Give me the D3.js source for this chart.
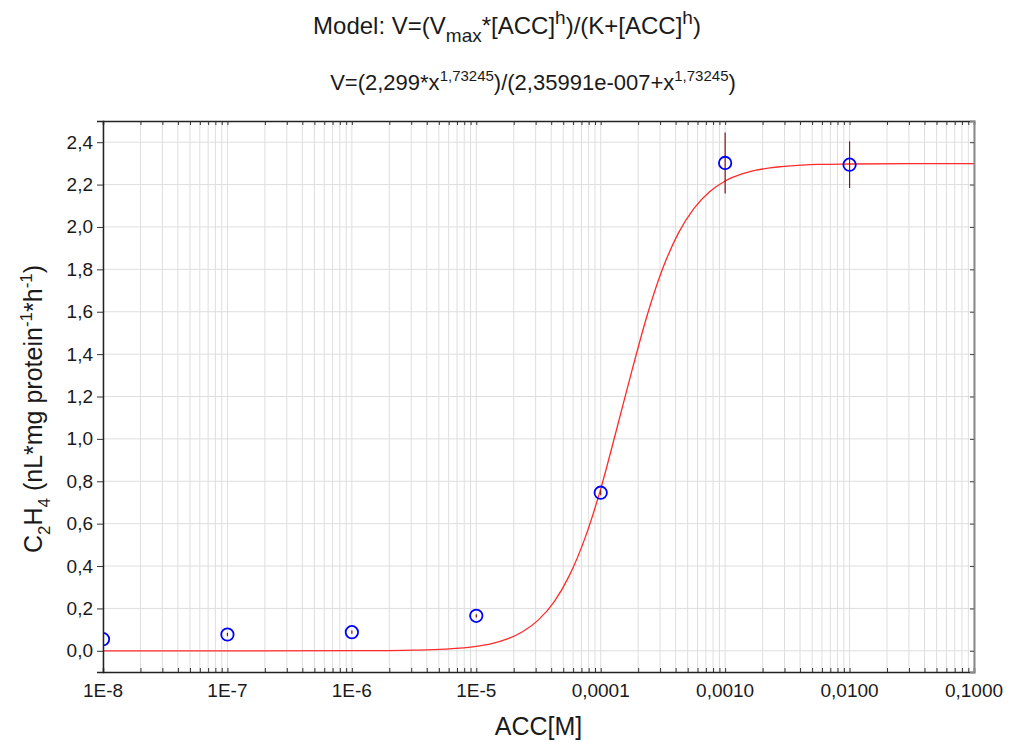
<!DOCTYPE html>
<html lang="en">
<head>
<meta charset="UTF-8">
<title>ACC dose response</title>
<style>
  body { margin: 0; background: #fff; }
  text { font-family: "Liberation Sans", Arial, sans-serif; fill: #1a1a1a; }
</style>
</head>
<body>
<svg id="chart" width="1010" height="742"></svg>
<script src="https://cdn.jsdelivr.net/npm/d3@7/dist/d3.min.js"></script>
<script>
// measured points (mean and error)
var accConc = [1e-8, 1e-7, 1e-6, 1e-5, 1e-4, 1e-3, 1e-2];
var ethylene = [0.055, 0.077, 0.088, 0.165, 0.746, 2.302, 2.294];
var ethyleneErr = [0.004, 0.008, 0.008, 0.008, 0.012, 0.144, 0.11];

// fitted curve
var fitConc = [1e-8, 1e-7, 1e-6, 1.78e-6, 3.16e-6, 5.62e-6, 1e-5, 1.33e-5, 1.78e-5, 2.37e-5,
    3.16e-5, 4.22e-5, 5.62e-5, 7.5e-5, 1e-4, 1.33e-4, 1.78e-4, 2.37e-4, 3.16e-4, 4.22e-4,
    5.62e-4, 7.5e-4, 1e-3, 1.33e-3, 1.78e-3, 3.16e-3, 5.62e-3, 1e-2, 3.16e-2, 0.1];
var fitV = [0, 0, 0.0004, 0.0011, 0.0029, 0.0078, 0.021, 0.034, 0.056, 0.091,
    0.146, 0.231, 0.357, 0.534, 0.764, 1.036, 1.321, 1.586, 1.806, 1.972,
    2.088, 2.166, 2.217, 2.248, 2.268, 2.287, 2.295, 2.297, 2.299, 2.299];

var xTickValues = [1e-8, 1e-7, 1e-6, 1e-5, 1e-4, 1e-3, 1e-2, 1e-1];
var xTickLabels = ["1E-8", "1E-7", "1E-6", "1E-5", "0,0001", "0,0010", "0,0100", "0,1000"];
var yTickValues = [0, 0.2, 0.4, 0.6, 0.8, 1.0, 1.2, 1.4, 1.6, 1.8, 2.0, 2.2, 2.4];
var yTickLabels = ["0,0", "0,2", "0,4", "0,6", "0,8", "1,0", "1,2", "1,4", "1,6", "1,8", "2,0", "2,2", "2,4"];

// title pieces: [text, kind] where kind is "n" normal, "sub", "sup"
var title1 = [["Model: V=(V", "n"], ["max", "sub"], ["*[ACC]", "n"], ["h", "sup"], [")/(K+[ACC]", "n"], ["h", "sup"], [")", "n"]];
var title2 = [["V=(2,299*x", "n"], ["1,73245", "sup"], [")/(2,35991e-007+x", "n"], ["1,73245", "sup"], [")", "n"]];
var yTitle = [["C", "n"], ["2", "sub"], ["H", "n"], ["4", "sub"], [" (nL*mg protein", "n"], ["-1", "sup"], ["*h", "n"], ["-1", "sup"], [")", "n"]];
var xTitle = "ACC[M]";

var plotLeft = 103, plotRight = 974, plotTop = 121, plotBottom = 672;

var svg = d3.select("#chart");

var x = d3.scaleLog().domain([1e-8, 0.1]).range([plotLeft, plotRight]);
var y = d3.scaleLinear().domain([-0.1, 2.5]).range([plotBottom, plotTop]);

var minorTicks = x.ticks(100);

// grid
svg.append("g")
    .selectAll("line")
    .data(minorTicks)
    .enter().append("line")
    .attr("x1", d => x(d)).attr("x2", d => x(d))
    .attr("y1", plotTop).attr("y2", plotBottom)
    .attr("stroke", "#dedede").attr("stroke-width", 1);

svg.append("g")
    .selectAll("line")
    .data(yTickValues)
    .enter().append("line")
    .attr("x1", plotLeft).attr("x2", plotRight)
    .attr("y1", d => y(d)).attr("y2", d => y(d))
    .attr("stroke", "#dedede").attr("stroke-width", 1);

// clip for plot content
svg.append("clipPath").attr("id", "plotClip")
    .append("rect").attr("x", plotLeft).attr("y", plotTop)
    .attr("width", plotRight - plotLeft).attr("height", plotBottom - plotTop);

var plot = svg.append("g").attr("clip-path", "url(#plotClip)");

var fitData = d3.zip(fitConc, fitV);
var line = d3.line()
    .x(d => x(d[0]))
    .y(d => y(d[1]))
    .curve(d3.curveMonotoneX);

plot.append("path")
    .datum(fitData)
    .attr("d", line)
    .attr("fill", "none")
    .attr("stroke", "#ff2a2a")
    .attr("stroke-width", 1.3);

var points = accConc.map((c, i) => ({ c: c, v: ethylene[i], e: ethyleneErr[i] }));

plot.append("g")
    .selectAll("line")
    .data(points)
    .enter().append("line")
    .attr("x1", d => x(d.c)).attr("x2", d => x(d.c))
    .attr("y1", d => y(d.v + d.e)).attr("y2", d => y(d.v - d.e))
    .attr("stroke", "#8b1010").attr("stroke-width", 1.2);

plot.append("g")
    .selectAll("circle")
    .data(points)
    .enter().append("circle")
    .attr("cx", d => x(d.c))
    .attr("cy", d => y(d.v))
    .attr("r", 6.2)
    .attr("fill", "none")
    .attr("stroke", "#0000ff")
    .attr("stroke-width", 1.8);

// axes
var bottomAxis = svg.append("g")
    .attr("transform", "translate(0," + plotBottom + ")")
    .call(d3.axisBottom(x).tickValues(minorTicks).tickSize(-4).tickFormat(""));
var topAxis = svg.append("g")
    .attr("transform", "translate(0," + plotTop + ")")
    .call(d3.axisTop(x).tickValues(minorTicks).tickSize(-4).tickFormat(""));
var leftAxis = svg.append("g")
    .attr("transform", "translate(" + plotLeft + ",0)")
    .call(d3.axisLeft(y).tickValues(yTickValues).tickSize(6).tickFormat(""));
var rightAxis = svg.append("g")
    .attr("transform", "translate(" + plotRight + ",0)")
    .call(d3.axisRight(y).tickValues(yTickValues).tickSize(-4).tickFormat(""));

[bottomAxis, topAxis, leftAxis].forEach(a => {
    a.select(".domain").attr("stroke", "#222").attr("stroke-width", 1.5);
    a.selectAll(".tick line").attr("stroke", "#333");
});
rightAxis.select(".domain").attr("stroke", "#888").attr("stroke-width", 2);
rightAxis.selectAll(".tick line").attr("stroke", "#444");

// tick labels
svg.append("g")
    .selectAll("text")
    .data(xTickValues)
    .enter().append("text")
    .attr("x", d => x(d))
    .attr("y", plotBottom + 25)
    .attr("text-anchor", "middle")
    .style("font-size", "19px")
    .text((d, i) => xTickLabels[i]);

svg.append("g")
    .selectAll("text")
    .data(yTickValues)
    .enter().append("text")
    .attr("x", plotLeft - 10)
    .attr("y", d => y(d) + 6.5)
    .attr("text-anchor", "end")
    .style("font-size", "19px")
    .text((d, i) => yTickLabels[i]);

// rich text with sub/superscripts
function richText(sel, parts, size, ratio) {
    var small = Math.round(size * ratio);
    var shift = 0;
    parts.forEach(p => {
        var target = p[1] == "sub" ? size * 0.32 : p[1] == "sup" ? -size * 0.42 : 0;
        sel.append("tspan")
            .attr("dy", target - shift)
            .style("font-size", (p[1] == "n" ? size : small) + "px")
            .text(p[0]);
        shift = target;
    });
}

var t1 = svg.append("text").attr("x", 507).attr("y", 34).attr("text-anchor", "middle").style("font-size", "24px");
richText(t1, title1, 24, 0.78);
var t2 = svg.append("text").attr("x", 533).attr("y", 90).attr("text-anchor", "middle").style("font-size", "22px");
richText(t2, title2, 22, 0.68);

svg.append("text")
    .attr("x", (plotLeft + plotRight) / 2)
    .attr("y", 735)
    .attr("text-anchor", "middle")
    .style("font-size", "25px")
    .text(xTitle);

var yt = svg.append("text")
    .attr("transform", "translate(42,409) rotate(-90)")
    .attr("text-anchor", "middle")
    .style("font-size", "25px");
richText(yt, yTitle, 25, 0.68);
</script>
</body>
</html>
